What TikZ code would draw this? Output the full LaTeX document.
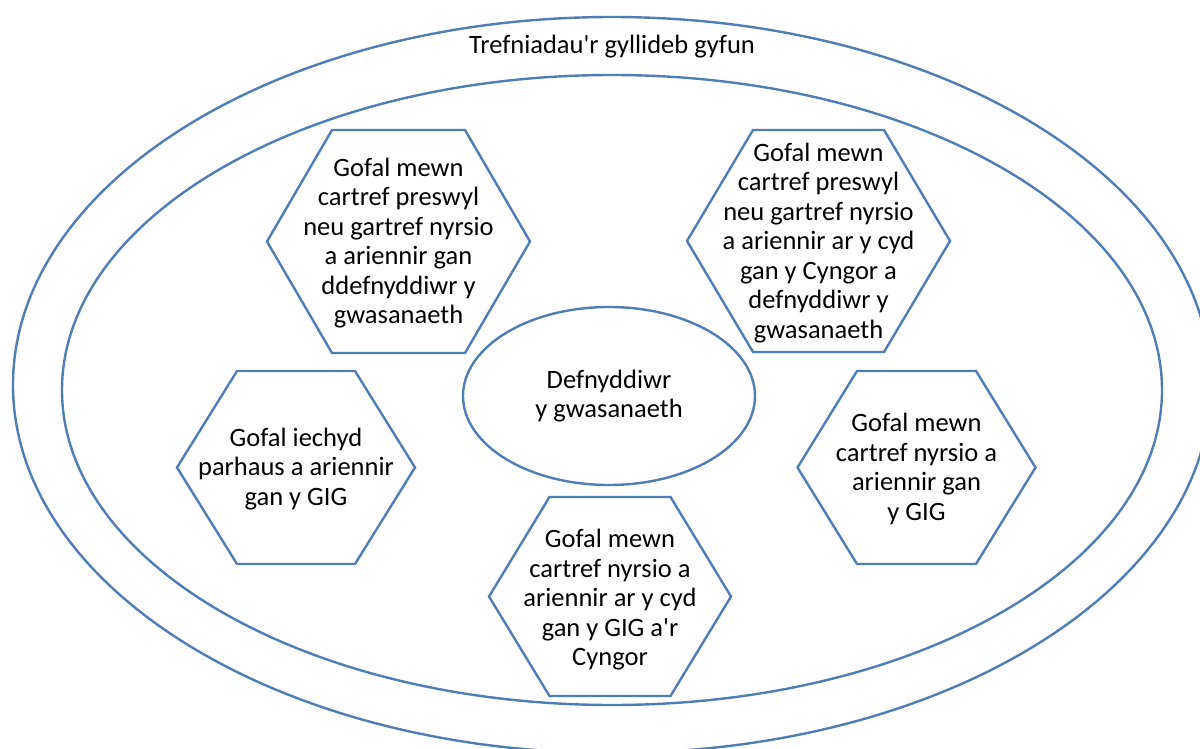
\documentclass[tikz,border=0pt]{standalone}
\usepackage{fontspec}
\setmainfont{Carlito}
\definecolor{lineblue}{HTML}{4F7DB5}
\tikzset{
  hexline/.style={draw=lineblue, line width=2.4pt, line join=miter},
  ringline/.style={draw=lineblue, line width=2.4pt},
  lbl/.style={align=center, text=black, font=\fontsize{26.5}{29.5}\selectfont, inner sep=0pt},
}
\newcommand\hexshape[5]{%
  \draw[hexline] (#1-#3,#2) -- (#1-#4,#2-#5) -- (#1+#4,#2-#5) -- (#1+#3,#2)
    -- (#1+#4,#2+#5) -- (#1-#4,#2+#5) -- cycle;}
\newcommand\apos{\textquotesingle}
\begin{document}
\begin{tikzpicture}[x=1pt,y=-1pt]
\useasboundingbox (0,0) rectangle (1200,749);
\clip (0,0) rectangle (1200,749);
\fill[white] (0,0) rectangle (1200,749);
% rings
\draw[ringline] (612,385) ellipse [x radius=599, y radius=368];
\draw[ringline] (612,390) ellipse [x radius=550, y radius=315];
\node[lbl] (title) at (612,47) {Trefniadau\apos r gyllideb gyfun};
% centre
\draw[ringline] (609,396) ellipse [x radius=146, y radius=89];
\node[lbl] (user) at (609,396) {Defnyddiwr\\y gwasanaeth};
% hexagons
\hexshape{398.5}{241.5}{131.5}{66.5}{111.5}
\node[lbl] (tl) at (398.5,243) {Gofal mewn\\cartref preswyl\\neu gartref nyrsio\\a ariennir gan\\ddefnyddiwr y\\gwasanaeth};
\hexshape{818.5}{241}{131.5}{65.5}{111}
\node[lbl] (tr) at (818.5,243) {Gofal mewn\\cartref preswyl\\neu gartref nyrsio\\a ariennir ar y cyd\\gan y Cyngor a\\defnyddiwr y\\gwasanaeth};
\hexshape{296}{467.5}{119}{59}{96.5}
\node[lbl] (l) at (296,469) {Gofal iechyd\\parhaus a ariennir\\gan y GIG};
\hexshape{916.5}{467.5}{119}{59.5}{96.5}
\node[lbl] (r) at (916.5,469) {Gofal mewn\\cartref nyrsio a\\ariennir gan\\y GIG};
\hexshape{610}{596.5}{121}{60.5}{99.5}
\node[lbl] (b) at (610,600) {Gofal mewn\\cartref nyrsio a\\ariennir ar y cyd\\gan y GIG a\apos r\\Cyngor};
\end{tikzpicture}
\end{document}
